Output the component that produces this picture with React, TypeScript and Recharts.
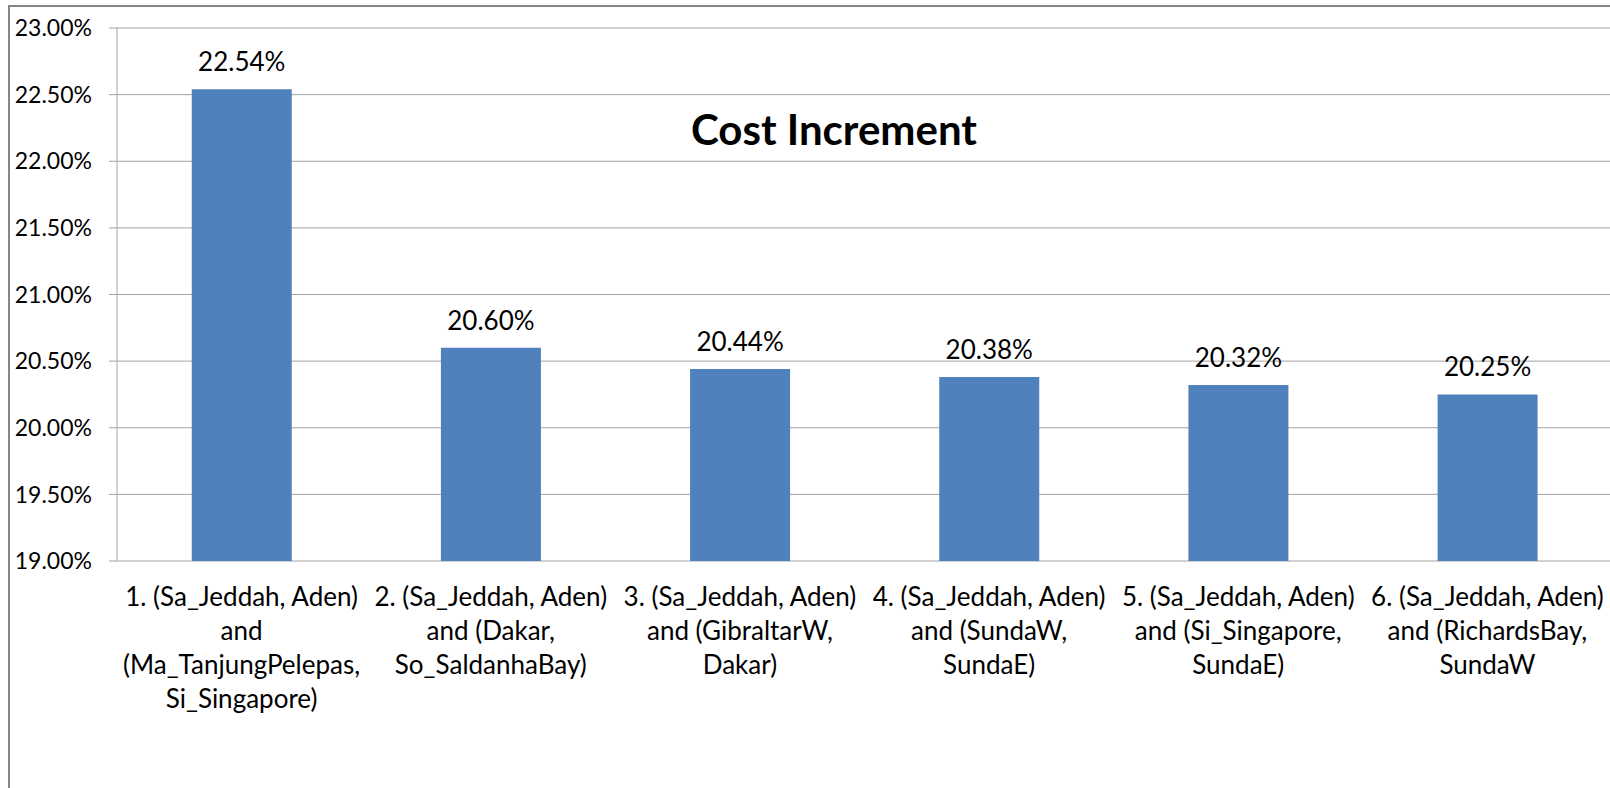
import { BarChart, Bar, XAxis, YAxis, CartesianGrid, LabelList } from 'recharts';

const categories = [
  '1. (Sa_Jeddah, Aden)\nand\n(Ma_TanjungPelepas,\nSi_Singapore)',
  '2. (Sa_Jeddah, Aden)\nand (Dakar,\nSo_SaldanhaBay)',
  '3. (Sa_Jeddah, Aden)\nand (GibraltarW,\nDakar)',
  '4. (Sa_Jeddah, Aden)\nand (SundaW,\nSundaE)',
  '5. (Sa_Jeddah, Aden)\nand (Si_Singapore,\nSundaE)',
  '6. (Sa_Jeddah, Aden)\nand (RichardsBay,\nSundaW',
];

const costIncrement = [22.54, 20.6, 20.44, 20.38, 20.32, 20.25];

const yTicks = [19, 19.5, 20, 20.5, 21, 21.5, 22, 22.5, 23];
const boundaryTicks = [0, 1, 2, 3, 4, 5, 6];

const chartData = categories.map((name, i) => ({ name, value: costIncrement[i] }));

const FONT = 'Lato, "Open Sans", sans-serif';
const BAR_COLOR = '#4F81BD';
const LINE_COLOR = '#a3a3a3';

const pct = (v: number) => `${v.toFixed(2)}%`;

function CategoryTick(props: any) {
  const { x, y, payload } = props;
  const lines = String(payload.value).split('\n');
  return (
    <text x={x} y={y} textAnchor="middle" fontSize={26} fontFamily={FONT} fill="#000">
      {lines.map((line, i) => (
        <tspan key={i} x={x} dy={i === 0 ? 45 : 34}>
          {line}
        </tspan>
      ))}
    </text>
  );
}

export default function App() {
  return (
    <div
      style={{
        position: 'fixed',
        left: 0,
        top: 0,
        width: 1610,
        height: 788,
        overflow: 'hidden',
        background: '#fff',
      }}
    >
      <div
        style={{
          position: 'absolute',
          left: 8,
          top: 5,
          width: 1700,
          height: 900,
          borderLeft: '2px solid #868686',
          borderTop: '2px solid #868686',
        }}
      />
      <div
        style={{
          position: 'absolute',
          left: 634,
          top: 102,
          width: 400,
          textAlign: 'center',
          fontFamily: FONT,
          fontWeight: 700,
          fontSize: 42,
          lineHeight: '54px',
          color: '#000',
        }}
      >
        Cost Increment
      </div>
      <div style={{ position: 'absolute', left: 0, top: 0 }}>
        <BarChart
          width={1620}
          height={788}
          data={chartData}
          margin={{ top: 28, right: 8, left: 0, bottom: 27 }}
          barCategoryGap="30%"
        >
          <CartesianGrid vertical={false} stroke={LINE_COLOR} />
          <XAxis
            xAxisId="bounds"
            type="number"
            domain={[0, 6]}
            ticks={boundaryTicks}
            allowDataOverflow
            height={0}
            tickSize={9}
            tickFormatter={() => ''}
            stroke={LINE_COLOR}
            tickLine={{ stroke: LINE_COLOR }}
            axisLine={{ stroke: LINE_COLOR }}
          />
          <XAxis
            xAxisId="cat"
            dataKey="name"
            interval={0}
            height={200}
            tickSize={0}
            tickMargin={0}
            axisLine={false}
            tickLine={false}
            tick={<CategoryTick />}
          />
          <YAxis
            domain={[19, 23]}
            ticks={yTicks}
            width={117}
            tickSize={8}
            tickMargin={17}
            tickFormatter={pct}
            allowDataOverflow
            stroke={LINE_COLOR}
            axisLine={{ stroke: LINE_COLOR }}
            tickLine={{ stroke: LINE_COLOR }}
            tick={{ fill: '#000', fontSize: 23, fontFamily: FONT }}
          />
          <Bar dataKey="value" xAxisId="cat" fill={BAR_COLOR} isAnimationActive={false}>
            <LabelList
              dataKey="value"
              position="top"
              offset={18}
              formatter={(v: any) => pct(Number(v))}
              fill="#000"
              fontSize={26}
              fontFamily={FONT}
            />
          </Bar>
        </BarChart>
      </div>
    </div>
  );
}
